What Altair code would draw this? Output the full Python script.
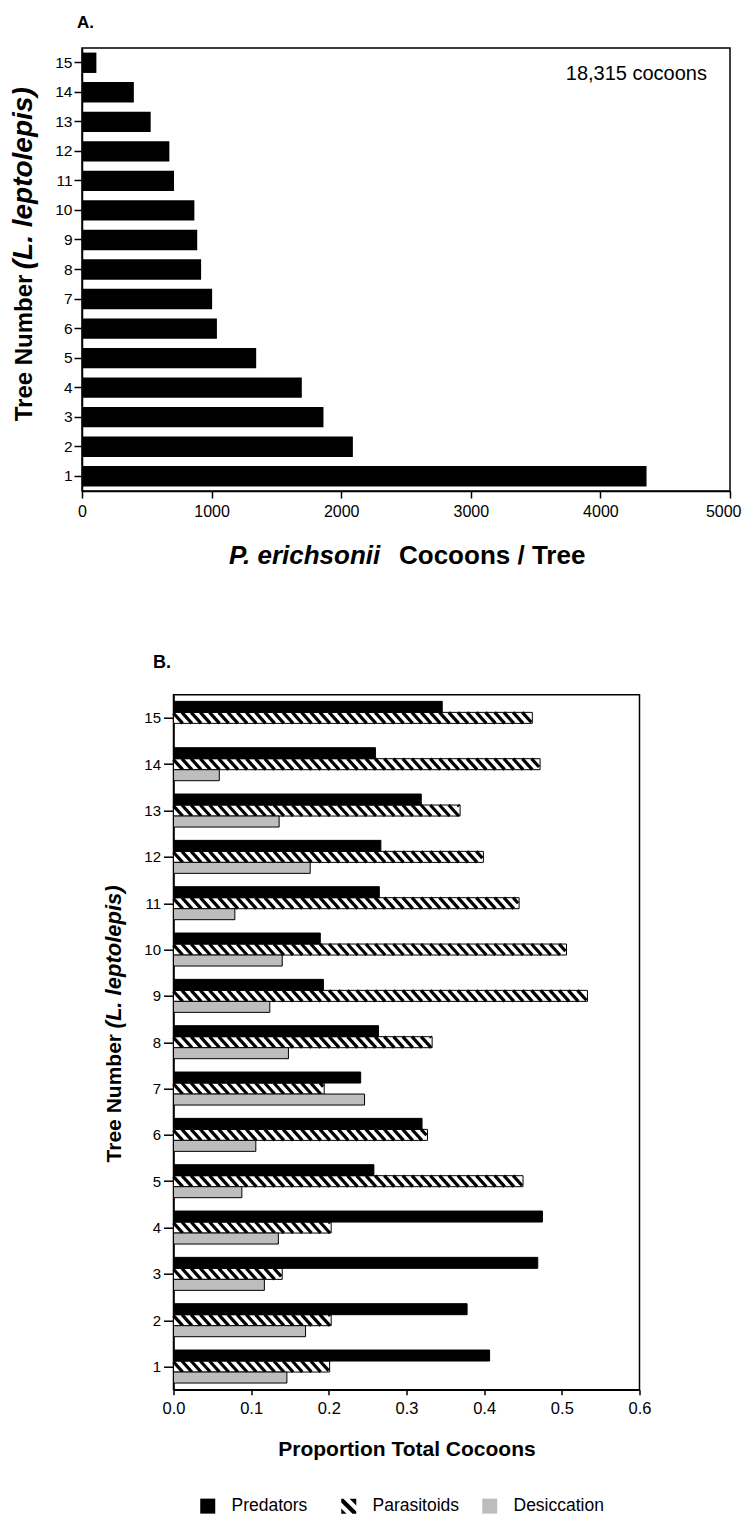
import altair as alt
import pandas as pd

# ---------------- data ----------------
trees = list(range(1, 16))
cocoons = [4356, 2090, 1863, 1696, 1344, 1041, 1004, 919, 889, 867, 710, 674, 530, 400, 111]

series = ["Predators", "Parasitoids", "Desiccation"]
predators = [0.407, 0.378, 0.469, 0.475, 0.258, 0.320, 0.241, 0.264, 0.193, 0.189,
             0.265, 0.267, 0.319, 0.260, 0.346]
parasitoids = [0.201, 0.203, 0.140, 0.203, 0.450, 0.327, 0.194, 0.333, 0.533, 0.506,
               0.445, 0.399, 0.369, 0.472, 0.462]
desiccation = [0.146, 0.170, 0.117, 0.135, 0.088, 0.106, 0.246, 0.148, 0.124, 0.140,
               0.079, 0.176, 0.136, 0.059, 0.0]

FONT = "Liberation Sans"

# ---------------- panel A ----------------
WA, HA = 648, 443
dfA = pd.DataFrame({"tree": trees, "cocoons": cocoons})

barsA = alt.Chart(dfA).mark_bar(color="black").encode(
    x=alt.X("cocoons:Q", scale=alt.Scale(domain=[0, 5000], nice=False),
            axis=alt.Axis(values=[0, 1000, 2000, 3000, 4000, 5000], format="d", title=None,
                          tickSize=7, labelPadding=5, labelFontSize=16, labelFlush=False,
                          labelAlign=alt.expr("datum.value >= 5000 ? 'right' : 'center'"),
                          labelOffset=alt.expr("datum.value >= 5000 ? 11 : 0"))),
    y=alt.Y("tree:O", sort="descending",
            scale=alt.Scale(paddingInner=0.31, paddingOuter=0.155),
            axis=alt.Axis(title=None, tickSize=8, labelPadding=2, labelFontSize=15.5)),
)


def txt(text, x, y, size, weight="normal", style="normal", align="left", angle=0):
    return alt.Chart(pd.DataFrame({"t": [text]})).mark_text(
        font=FONT, fontSize=size, fontWeight=weight, fontStyle=style, align=align,
        baseline="alphabetic", angle=angle, color="black"
    ).encode(x=alt.value(x), y=alt.value(y), text="t:N")


textA = [
    txt("A.", -5, -19.7, 17, "bold"),
    txt("18,315 cocoons", 625, 32.3, 20, align="right"),
    txt("Tree Number", -50, 373.3, 24, "bold", angle=270),
    txt("(L. leptolepis)", -50, 221.3, 28, "bold", "italic", angle=270),
    txt("P. erichsonii", 147, 516.3, 26, "bold", "italic"),
    txt("Cocoons / Tree", 317, 516.3, 26, "bold"),
]

chartA = alt.layer(barsA, *textA).properties(width=WA, height=HA)

# ---------------- panel B ----------------
WB, HB = 466, 695
XMAX = 0.6
px_x = WB / XMAX          # pixels per data unit (x)
px_y = HB / 15.0          # pixels per data unit (y)
h = 11 / px_y             # bar thickness in data units

rows = []
for i, t in enumerate(trees):
    for s, vals, off in (("Predators", predators, h), ("Parasitoids", parasitoids, 0.0),
                         ("Desiccation", desiccation, -h)):
        v = vals[i]
        if v > 0:
            rows.append(dict(tree=t, series=s, start=0.0, value=v,
                             y0=t + off - h / 2, y1=t + off + h / 2))
dfB = pd.DataFrame(rows)

# hatch lines for the parasitoid bars (derived from the bar values)
period = 9.2 / px_x
dxd = 10.0 / px_x
marg = 1.0 / px_x
srows = []
for i, t in enumerate(trees):
    v = parasitoids[i]
    top, bot = t + h / 2, t - h / 2
    k = -dxd
    while k < v:
        tmin = max(0.0, (0.0 - k) / dxd)
        tmax = min(1.0, (v - marg - k) / dxd)
        if tmin < tmax:
            srows.append(dict(sx=k + tmin * dxd, sx2=k + tmax * dxd,
                              sy=top - tmin * (top - bot), sy2=top - tmax * (top - bot)))
        k += period
dfS = pd.DataFrame(srows)

xscaleB = alt.Scale(domain=[0, XMAX], nice=False)
yscaleB = alt.Scale(domain=[0.5, 15.5], nice=False, zero=False)
xaxisB = alt.Axis(values=[0, 0.1, 0.2, 0.3, 0.4, 0.5, 0.6], format=".1f",
                  title="Proportion Total Cocoons", titleFontSize=21, titleFontWeight="bold",
                  titleBaseline="alphabetic", titleY=66, tickSize=5, labelPadding=6,
                  labelFontSize=16.5, labelFlush=False)
yaxisB = alt.Axis(values=trees, format="d", title=None, tickSize=10, labelPadding=3,
                  labelFontSize=15, labelFlush=False)

baseB = alt.Chart(dfB).encode(
    x=alt.X("start:Q", scale=xscaleB, axis=xaxisB),
    x2="value:Q",
    y=alt.Y("y0:Q", scale=yscaleB, axis=yaxisB),
    y2="y1:Q",
)

paraFill = baseB.transform_filter("datum.series == 'Parasitoids'").mark_rect(color="white")
stripes = alt.Chart(dfS).mark_rule(color="black", strokeWidth=3.2, strokeCap="butt").encode(
    x=alt.X("sx:Q", scale=xscaleB, axis=xaxisB),
    x2="sx2:Q",
    y=alt.Y("sy:Q", scale=yscaleB, axis=yaxisB),
    y2="sy2:Q",
)
paraBorder = baseB.transform_filter("datum.series == 'Parasitoids'").mark_rect(
    fill="transparent", stroke="black", strokeWidth=1)
predBars = baseB.transform_filter("datum.series == 'Predators'").mark_rect(
    fill="black", stroke="black", strokeWidth=1)
desBars = baseB.transform_filter("datum.series == 'Desiccation'").mark_rect(
    fill="#bdbdbd", stroke="black", strokeWidth=1)

SQ = "M-1,-1L1,-1L1,1L-1,1Z"
HATCH = ("M-1,-1L1,-1L1,1L-1,1Z"
         "M-1,0.3L-0.3,1L0.5,1L-1,-0.5Z"
         "M1,0.7L1,-0.1L0.1,-1L-0.7,-1Z")

legB = alt.Legend(title=None, orient="none", legendX=117, legendY=1449, direction="horizontal",
                  columns=3, gridAlign="all", columnPadding=17, labelFont=FONT,
                  labelFontSize=17.5, labelColor="black", labelOffset=15, symbolSize=225,
                  symbolStrokeColor="black", symbolStrokeWidth=1, padding=0)

dfL = pd.DataFrame({"series": series, "lx": [-1.0, -1.0, -1.0], "ly": [0.0, 0.0, 0.0]})
legendLayer = alt.Chart(dfL).transform_filter("datum.lx >= 0").mark_point(
    filled=True, opacity=1).encode(
    x=alt.X("lx:Q", scale=xscaleB, axis=xaxisB),
    y=alt.Y("ly:Q", scale=yscaleB, axis=yaxisB),
    fill=alt.Fill("series:N", scale=alt.Scale(domain=series, range=["black", "black", "#bdbdbd"]),
                  legend=legB),
    shape=alt.Shape("series:N", scale=alt.Scale(domain=series, range=[SQ, HATCH, SQ]),
                    legend=legB),
)

textB = [
    txt("B.", -20.5, -26.3, 18, "bold"),
    txt("Tree Number", -52.5, 467.7, 21, "bold", angle=270),
    txt("(L. leptolepis)", -52.5, 333.7, 22, "bold", "italic", angle=270),
]

chartB = alt.layer(paraFill, stripes, paraBorder, predBars, desBars, legendLayer, *textB
                   ).properties(width=WB, height=HB)

spacer = alt.Chart(pd.DataFrame({"s": [0]})).mark_point(opacity=0).encode(
    x=alt.value(0), y=alt.value(0)
).properties(width=1, height=1, view=alt.ViewBackground(stroke="transparent"))

chart = alt.vconcat(
    chartA,
    alt.hconcat(spacer, chartB, spacing=15.5),
    spacing=81.7,
).properties(
    padding={"left": 1, "top": 5, "right": 0, "bottom": 0}
).configure_view(
    stroke="black", strokeWidth=1.5
).configure_axis(
    grid=False, domainColor="black", domainWidth=1.5, tickColor="black", tickWidth=1.5,
    labelColor="black", labelFont=FONT, titleFont=FONT, titleColor="black", zindex=1
)

chart.save("out.html", embed_options={"renderer": "svg", "actions": False})
